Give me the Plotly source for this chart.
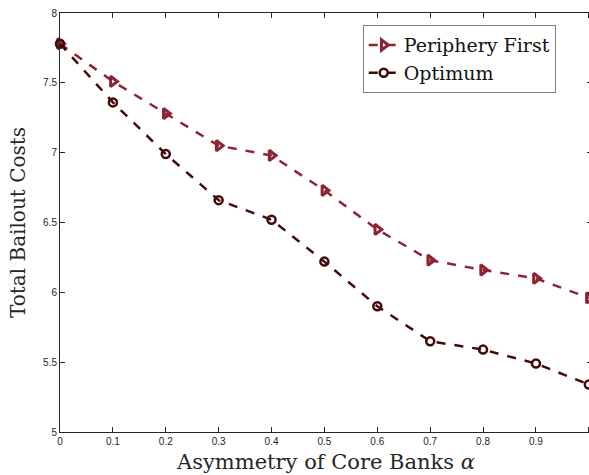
import plotly.graph_objects as go

alpha = [0, 0.1, 0.2, 0.3, 0.4, 0.5, 0.6, 0.7, 0.8, 0.9, 1.0]
periphery_first = [7.78, 7.51, 7.28, 7.05, 6.98, 6.73, 6.45, 6.23, 6.16, 6.10, 5.96]
optimum = [7.78, 7.36, 6.99, 6.66, 6.52, 6.22, 5.90, 5.65, 5.59, 5.49, 5.34]
x_ticks = [0, 0.1, 0.2, 0.3, 0.4, 0.5, 0.6, 0.7, 0.8, 0.9, 1]
x_tick_text = ["0", "0.1", "0.2", "0.3", "0.4", "0.5", "0.6", "0.7", "0.8", "0.9", "1"]
y_ticks = [5, 5.5, 6, 6.5, 7, 7.5, 8]
y_tick_text = ["5", "5.5", "6", "6.5", "7", "7.5", "8"]

c_pf = "#8E2433"
c_opt = "#430808"

fig = go.Figure()
fig.add_trace(go.Scatter(
    x=alpha, y=periphery_first, name="Periphery First", mode="lines+markers",
    line=dict(color=c_pf, width=2.5, dash="dash"),
    marker=dict(symbol="triangle-right-open", size=9, color=c_pf, line=dict(width=3, color=c_pf)),
    cliponaxis=False,
))
fig.add_trace(go.Scatter(
    x=alpha, y=optimum, name="Optimum", mode="lines+markers",
    line=dict(color=c_opt, width=2.5, dash="dash"),
    marker=dict(symbol="circle-open", size=8, color=c_opt, line=dict(width=2.5, color=c_opt)),
    cliponaxis=False,
))

axis_common = dict(
    showgrid=False, zeroline=False, showline=True, linecolor="#262626", linewidth=1,
    mirror="ticks", ticks="inside", ticklen=5, tickcolor="#262626", automargin=False,
    tickfont=dict(family="Liberation Sans, Arial, sans-serif", size=10, color="#262626"),
)

fig.update_layout(
    width=592, height=475,
    margin=dict(l=60, r=0, t=13, b=43),
    paper_bgcolor="white", plot_bgcolor="white",
    xaxis=dict(range=[0, 1.006], tickvals=x_ticks, ticktext=x_tick_text,
               title=dict(text="Asymmetry of Core Banks <i>α</i>", standoff=8,
                          font=dict(family="DejaVu Serif, serif", size=21, color="#262626")),
               **axis_common),
    yaxis=dict(range=[5, 8], tickvals=y_ticks, ticktext=y_tick_text,
               title=dict(text="Total Bailout Costs", standoff=12,
                          font=dict(family="DejaVu Serif, serif", size=20, color="#262626")),
               **axis_common),
    legend=dict(x=0.569, y=0.971, xanchor="left", yanchor="top",
                bgcolor="white", bordercolor="#7f7f7f", borderwidth=1,
                font=dict(family="DejaVu Serif, serif", size=19, color="#111111"),
                tracegroupgap=0, itemwidth=30),
    showlegend=True,
)

fig.write_html("out.html", config={"displayModeBar": False},
               post_script="document.body.style.margin='0px';document.body.style.overflow='hidden';")
